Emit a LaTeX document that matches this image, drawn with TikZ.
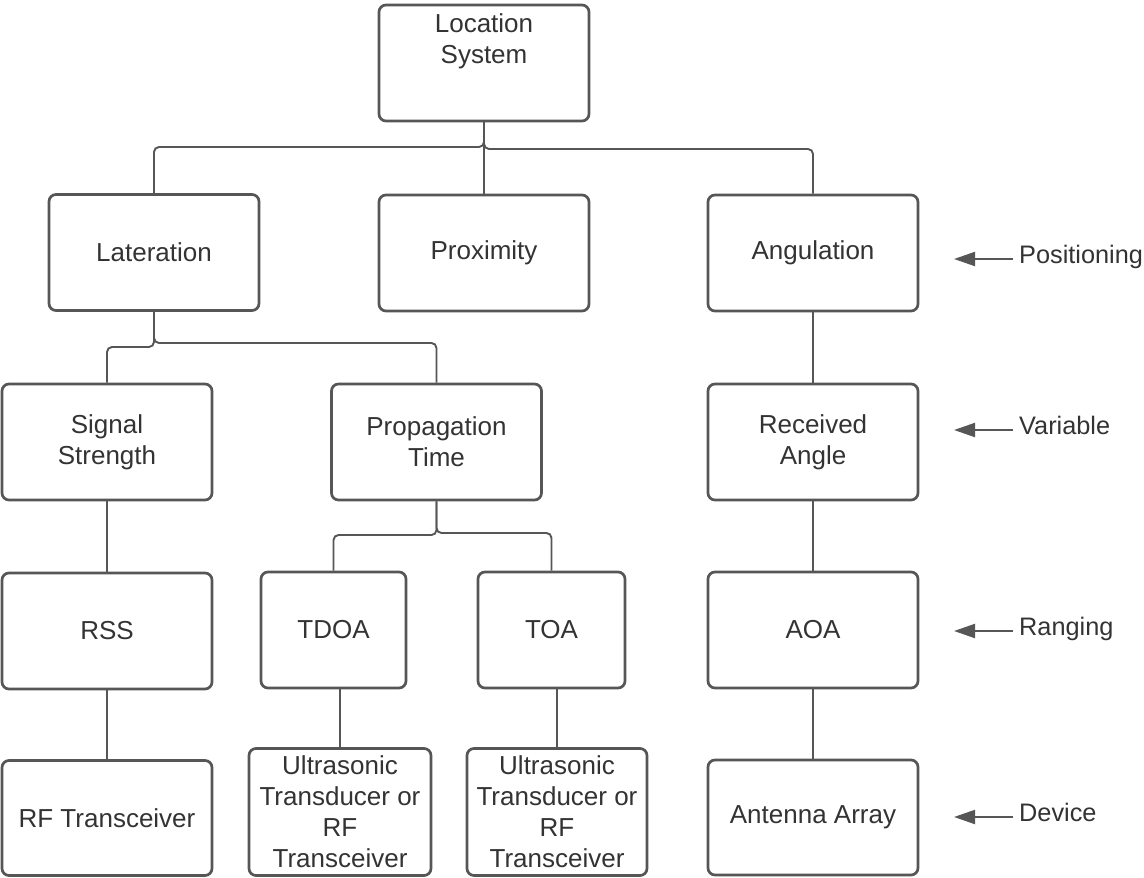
\documentclass[tikz,border=0pt]{standalone}
\usepackage{fontspec}
\setmainfont{Liberation Sans}
\usetikzlibrary{arrows.meta}
\definecolor{linecol}{HTML}{565656}
\definecolor{txtcol}{HTML}{333333}
\begin{document}
\begin{tikzpicture}[x=1pt,y=-1pt,
  boxbase/.style={draw=linecol, line width=2.7pt, rounded corners=7pt, fill=white,
    text=txtcol, font=\fontsize{26}{31}\selectfont, inner sep=0pt,
    minimum width=210pt, minimum height=116pt},
  box/.style={boxbase, align=center},
  conn/.style={draw=linecol, line width=1.9pt, rounded corners=5pt},
  arr/.style={draw=linecol, line width=2pt, -{Triangle[length=21pt,width=14pt]}},
  lbl/.style={text=txtcol, font=\fontsize{25.3}{31}\selectfont, anchor=west, inner sep=6pt,
    text height=18.6pt, text depth=9.5pt}]
\useasboundingbox (0,0) rectangle (1144,878);

% level 0
\node[boxbase] (ls) at (484,63) {\raisebox{15pt}[0pt][0pt]{\begin{tabular}{@{}c@{}}Location\\System\end{tabular}}};
% level 1
\node[box] (lat)  at (154,252.5) {Lateration};
\node[box] (prox) at (484,253)   {Proximity};
\node[box] (ang)  at (813,253)   {Angulation};
% level 2
\node[box] (sig)  at (107,442)   {Signal\\Strength};
\node[box] (prop) at (436.5,442) {Propagation\\Time};
\node[box] (recv) at (813,442)   {Received\\Angle};
% level 3
\node[box] (rss)  at (107,631)   {RSS};
\node[box, minimum width=145pt] (tdoa) at (333.5,630) {TDOA};
\node[box, minimum width=147pt] (toa)  at (551.5,630) {TOA};
\node[box] (aoa)  at (813,630)   {AOA};
% level 4
\node[box, minimum height=115pt] (rf) at (107,818) {RF Transceiver};
\node[box, minimum width=182pt, minimum height=127pt] (u1) at (340,812) {Ultrasonic\\Transducer or\\RF\\Transceiver};
\node[box, minimum width=180pt, minimum height=127pt] (u2) at (557,812) {Ultrasonic\\Transducer or\\RF\\Transceiver};
\node[box, minimum height=115pt] (ant) at (813,817.5) {Antenna Array};

% junction levels
\coordinate (jA) at (0,147);
\coordinate (jB) at (0,149);
\coordinate (jC) at (0,347);
\coordinate (jD) at (0,343);
\coordinate (jE) at (0,535);
\coordinate (jF) at (0,533);

% connectors
\draw[conn] (ls.south) -- (ls.south |- jA) -| (lat.north);
\draw[conn] (ls.south) -- (prox.north);
\draw[conn] (ls.south) -- (ls.south |- jB) -| (ang.north);
\draw[conn] (lat.south) -- (lat.south |- jC) -| (sig.north);
\draw[conn] (lat.south) -- (lat.south |- jD) -| (prop.north);
\draw[conn] (prop.south) -- (prop.south |- jE) -| (tdoa.north);
\draw[conn] (prop.south) -- (prop.south |- jF) -| (toa.north);
\draw[conn] (ang.south) -- (recv.north);
\draw[conn] (recv.south) -- (aoa.north);
\draw[conn] (aoa.south) -- (ant.north);
\draw[conn] (sig.south) -- (rss.north);
\draw[conn] (rss.south) -- (rf.north);
\draw[conn] (u1.north |- tdoa.south) -- (u1.north);
\draw[conn] (u2.north |- toa.south) -- (u2.north);

% side labels
\node[lbl] (lpos) at (1013,259) {Positioning};
\node[lbl] (lvar) at (1013,430) {Variable};
\node[lbl] (lran) at (1013,631) {Ranging};
\node[lbl] (ldev) at (1013,817) {Device};
\coordinate (tpos) at (954,259);
\coordinate (tvar) at (954,430);
\coordinate (tran) at (954,631);
\coordinate (tdev) at (954,817);
\draw[arr] (lpos.west) -- (tpos);
\draw[arr] (lvar.west) -- (tvar);
\draw[arr] (lran.west) -- (tran);
\draw[arr] (ldev.west) -- (tdev);
\end{tikzpicture}
\end{document}
